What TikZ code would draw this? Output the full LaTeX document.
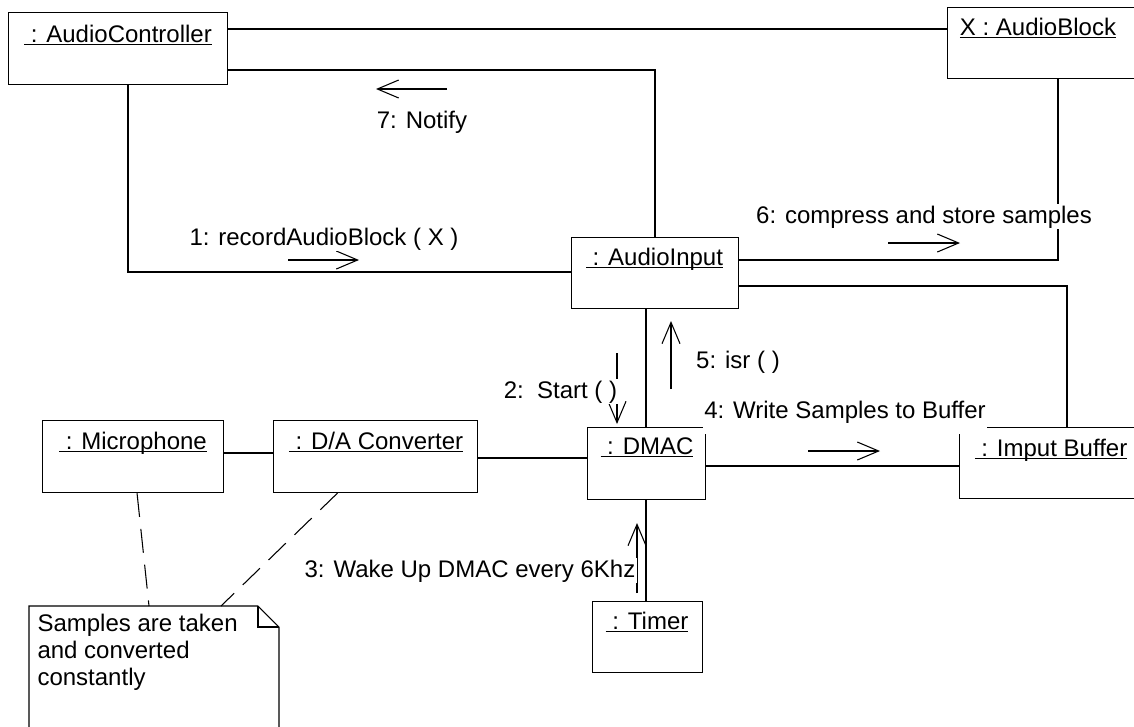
\documentclass[tikz,border=0pt]{standalone}
\usepackage{fontspec}
\setmainfont{Liberation Sans}
\usetikzlibrary{arrows.meta}
\newcommand\objname[1]{\underline{\smash{\ #1}}}
\begin{document}
\begin{tikzpicture}[x=0.75pt,y=-0.75pt,
  font=\fontsize{18}{20}\selectfont, line width=0.8pt,
  obj/.style={draw, inner sep=0pt, anchor=north west},
  txt/.style={inner sep=0pt, anchor=base},
  lbl/.style={inner xsep=1pt, inner ysep=1pt, anchor=base, fill=white},
  msg/.style={-{Straight Barb[length=16pt,width=13.5pt]}},
  notelink/.style={dash pattern=on 18pt off 9pt}]
\useasboundingbox (0,0) rectangle (1134,726);

% objects
\node[obj, minimum width=164.25pt, minimum height=54pt] (ac) at (8,12) {};
\node[obj, minimum width=144pt, minimum height=53.25pt] (ab) at (947,7) {};
\node[obj, minimum width=125.25pt, minimum height=53.25pt] (ai) at (571,237) {};
\node[obj, minimum width=88.5pt, minimum height=54pt] (dmac) at (587,427) {};
\node[obj, minimum width=138pt, minimum height=53.25pt] (ib) at (959,427) {};
\node[obj, minimum width=135.75pt, minimum height=54pt] (mic) at (42,420) {};
\node[obj, minimum width=153pt, minimum height=54pt] (da) at (273,420) {};
\node[obj, minimum width=82.5pt, minimum height=53.25pt] (timer) at (592,601) {};

\node[txt] (acl) at (118,42) {\objname{: AudioController}};
\node[txt] (abl) at (1038,35) {\underline{\smash{X : AudioBlock}}};
\node[txt] (ail) at (654.5,265) {\objname{: AudioInput}};
\node[txt] (dmacl) at (647,454) {\objname{: DMAC}};
\node[txt] (ibl) at (1051,456) {\objname{: Imput Buffer}};
\node[txt] (micl) at (133,449) {\objname{: Microphone}};
\node[txt] (dal) at (376,449) {\objname{: D/A Converter}};
\node[txt] (timerl) at (647,629) {\objname{: Timer}};

% links
\coordinate (h29) at (0,29);
\draw (ac.east |- h29) -- (ab.west |- h29);
\coordinate (k1) at (655,70);
\draw (ac.east |- k1) -- (k1) -- (k1 |- ai.north);
\coordinate (k2) at (128,272);
\draw (k2 |- ac.south) -- (k2) -- (ai.west |- k2);
\coordinate (k3) at (1058,260);
\draw (ai.east |- k3) -- (k3) -- (k3 |- ab.south);
\coordinate (k4) at (1067,286);
\draw (ai.east |- k4) -- (k4) -- (k4 |- ib.north);
\coordinate (k5) at (646,0);
\draw (k5 |- ai.south) -- (k5 |- dmac.north);
\draw (k5 |- dmac.south) -- (k5 |- timer.north);
\coordinate (k6) at (0,466);
\draw (dmac.east |- k6) -- (ib.west |- k6);
\coordinate (k7) at (0,458);
\draw (da.east |- k7) -- (dmac.west |- k7);
\coordinate (k8) at (0,453);
\draw (mic.east |- k8) -- (da.west |- k8);

% note
\draw (29,740) -- (29,606) -- (258,606) -- (279,627) -- (279,740);
\draw (258,606) -- (258,627) -- (279,627);
\node[anchor=north west, align=left, inner sep=0pt] (notetext) at (37,614)
  {Samples are taken\\and converted\\constantly};
\coordinate (noteA) at (149,606);
\coordinate (noteB) at (221,606);
\draw[notelink] ([xshift=3pt]mic.south) -- (noteA);
\draw[notelink] ([xshift=-28.5pt]da.south) -- (noteB);

% messages
\coordinate (a7s) at (447,89);  \coordinate (a7e) at (376,89);
\coordinate (a1s) at (288,260); \coordinate (a1e) at (359,260);
\coordinate (a6s) at (888,243); \coordinate (a6e) at (960,243);
\coordinate (a5s) at (671,389); \coordinate (a5e) at (671,321);
\coordinate (a2s) at (617,353); \coordinate (a2e) at (617,424);
\coordinate (a4s) at (808,451); \coordinate (a4e) at (880,451);
\coordinate (a3s) at (637,593); \coordinate (a3e) at (637,523);
\draw[msg] (a7s) -- (a7e);
\draw[msg] (a1s) -- (a1e);
\draw[msg] (a6s) -- (a6e);
\draw[msg] (a5s) -- (a5e);
\draw[msg] (a2s) -- (a2e);
\draw[msg] (a4s) -- (a4e);
\draw[msg] (a3s) -- (a3e);

\node[lbl] (m7) at (422,128) {7: Notify};
\node[lbl] (m1) at (324,245) {1: recordAudioBlock ( X )};
\node[lbl] (m6) at (924,223) {6: compress and store samples};
\node[lbl] (m5) at (738,368) {5: isr ( )};
\node[lbl, anchor=base east] (m2) at (619,398) {2:\ \ Start ( )};
\node[lbl, text depth=11pt] (m4) at (845,418) {4: Write Samples to Buffer};
\node[lbl] (m3) at (470,577) {3: Wake Up DMAC every 6Khz};
\end{tikzpicture}
\end{document}
